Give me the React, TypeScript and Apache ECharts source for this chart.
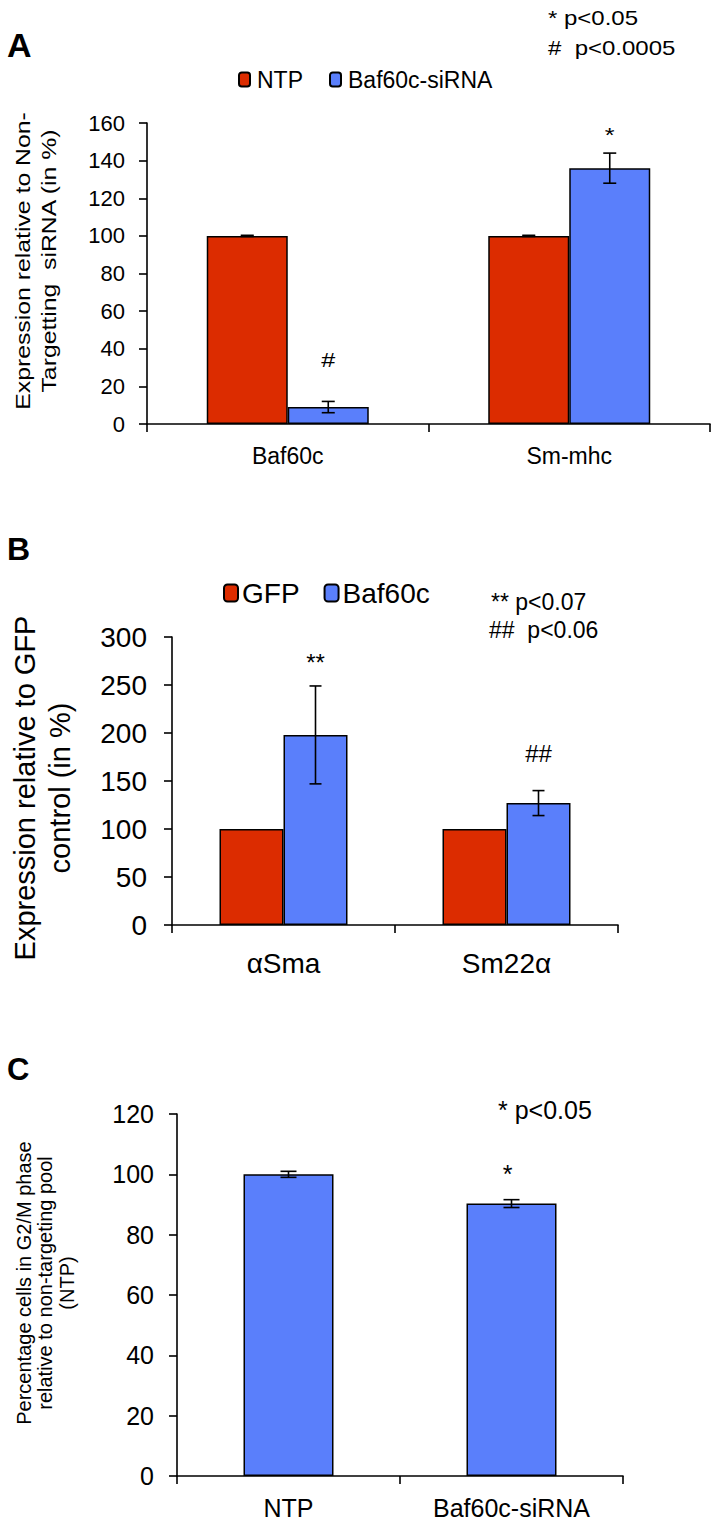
import React, { useEffect, useRef } from "react";
import * as echarts from "echarts";

// ---------- Data ----------
// Panel A
const catsA = ["Baf60c", "Sm-mhc"];
const ntpA = [100, 100];
const ntpErrA = [0.3, 0.3];
const siA = [9, 136];
const siErrA = [3, 8];
const markTextA = ["#", "*"];
const markPosA = [34, 154];
const ticksA = { min: 0, max: 160, interval: 20 };

// Panel B
const catsB = ["αSma", "Sm22α"];
const gfpB = [100, 100];
const bafB = [198, 127];
const bafErrB = [51, 13];
const markTextB = ["**", "##"];
const markPosB = [273, 179];
const ticksB = { min: 0, max: 300, interval: 50 };

// Panel C
const catsC = ["NTP", "Baf60c-siRNA"];
const valC = [100, 90.3];
const errC = [1, 1.3];
const markTextC = ["", "*"];
const markPosC = [0, 100];
const ticksC = { min: 0, max: 120, interval: 20 };

const RED = "#dc2c00";
const BLUE = "#5a7ffb";
const FONT = "'Liberation Sans', Arial, Helvetica, sans-serif";

function errRenderer(offsetPx: number, capHalf: number) {
  return (params: any, api: any) => {
    const i = api.value(0);
    const v = api.value(1);
    const e = api.value(2);
    if (!(e > 0)) return { type: "group", children: [] };
    const c = api.coord([i, v]);
    const t = api.coord([i, v + e]);
    const b = api.coord([i, v - e]);
    const x = c[0] + offsetPx;
    const st = { stroke: "#000", lineWidth: 1.6 };
    return {
      type: "group",
      children: [
        { type: "line", shape: { x1: x, y1: t[1], x2: x, y2: b[1] }, style: st },
        { type: "line", shape: { x1: x - capHalf, y1: t[1], x2: x + capHalf, y2: t[1] }, style: st },
        { type: "line", shape: { x1: x - capHalf, y1: b[1], x2: x + capHalf, y2: b[1] }, style: st },
      ],
    };
  };
}

function markRenderer(texts: string[], offsetPx: number, fontSize: number, scaleX: number) {
  return (params: any, api: any) => {
    const i = api.value(0);
    const v = api.value(1);
    const txt = texts[params.dataIndex];
    if (!txt) return { type: "group", children: [] };
    const c = api.coord([i, v]);
    return {
      type: "text",
      x: c[0] + offsetPx,
      y: c[1],
      scaleX,
      style: {
        text: txt,
        fontSize,
        fontFamily: FONT,
        fill: "#000",
        align: "center",
        verticalAlign: "middle",
      },
    };
  };
}

function catAxis(gridIndex: number, data: string[], fontSize: number, margin: number) {
  return {
    type: "category",
    gridIndex,
    data,
    boundaryGap: true,
    axisLine: { show: true, lineStyle: { color: "#000", width: 1.6 } },
    axisTick: { show: true, length: 8, inside: false, lineStyle: { color: "#000", width: 1.6 } },
    axisLabel: { color: "#000", fontSize, fontFamily: FONT, margin },
    splitLine: { show: false },
  };
}

function valAxis(gridIndex: number, t: any, fontSize: number, margin: number) {
  return {
    type: "value",
    gridIndex,
    min: t.min,
    max: t.max,
    interval: t.interval,
    axisLine: { show: true, lineStyle: { color: "#000", width: 1.6 } },
    axisTick: { show: true, length: 8, lineStyle: { color: "#000", width: 1.6 } },
    axisLabel: { color: "#000", fontSize, fontFamily: FONT, margin },
    splitLine: { show: false },
  };
}

const barStyle = (color: string) => ({ color, borderColor: "#000", borderWidth: 1.5 });

function txt(x: number, y: number, text: string, fontSize: number, extra: any = {}) {
  const { scaleX = 1, bold = false, rotation = 0, lineHeight, align = "left" } = extra;
  return {
    type: "text",
    x,
    y,
    scaleX,
    rotation,
    style: {
      text,
      fontSize,
      lineHeight,
      fontWeight: bold ? "bold" : "normal",
      fontFamily: FONT,
      fill: "#000",
      align,
      verticalAlign: "middle",
    },
  };
}

export default function App() {
  const ref = useRef<HTMLDivElement>(null);
  useEffect(() => {
    if (!ref.current) return;
    const chart = echarts.init(ref.current, null, { renderer: "svg" });
    const option: any = {
      animation: false,
      backgroundColor: "#fff",
      grid: [
        { left: 147, top: 123, width: 563, height: 301 },
        { left: 172, top: 637, width: 446, height: 288 },
        { left: 177, top: 1114, width: 446, height: 362 },
      ],
      xAxis: [
        catAxis(0, catsA, 23, 20),
        catAxis(1, catsB, 28, 24),
        catAxis(2, catsC, 25, 19),
      ],
      yAxis: [
        valAxis(0, ticksA, 22, 22),
        valAxis(1, ticksB, 28, 25),
        valAxis(2, ticksC, 25, 23),
      ],
      legend: [
        {
          data: ["NTP", "Baf60c-siRNA"],
          left: 233,
          top: 63,
          itemWidth: 11,
          itemHeight: 14,
          itemGap: 26,
          textStyle: { fontSize: 23, fontFamily: FONT, color: "#000", padding: [0, 0, 0, 2] },
          selectedMode: false,
        },
        {
          data: ["GFP", "Baf60c"],
          left: 218,
          top: 574,
          itemWidth: 14,
          itemHeight: 17,
          itemGap: 24,
          textStyle: { fontSize: 28, fontFamily: FONT, color: "#000", padding: [0, 0, 0, -1] },
          selectedMode: false,
        },
      ],
      series: [
        {
          name: "NTP", type: "bar", xAxisIndex: 0, yAxisIndex: 0, data: ntpA,
          barWidth: 81, barGap: "0%", itemStyle: barStyle(RED),
        },
        {
          name: "Baf60c-siRNA", type: "bar", xAxisIndex: 0, yAxisIndex: 0, data: siA,
          barWidth: 81, barGap: "0%", itemStyle: barStyle(BLUE),
        },
        {
          type: "custom", xAxisIndex: 0, yAxisIndex: 0, z: 5,
          data: ntpA.map((v, i) => [i, v, ntpErrA[i]]),
          renderItem: errRenderer(-40.5, 6.5),
        },
        {
          type: "custom", xAxisIndex: 0, yAxisIndex: 0, z: 5,
          data: siA.map((v, i) => [i, v, siErrA[i]]),
          renderItem: errRenderer(40.5, 6.5),
        },
        {
          type: "custom", xAxisIndex: 0, yAxisIndex: 0, z: 5,
          data: markPosA.map((v, i) => [i, v]),
          renderItem: markRenderer(markTextA, 40.5, 21, 1.2),
        },
        {
          name: "GFP", type: "bar", xAxisIndex: 1, yAxisIndex: 1, data: gfpB,
          barWidth: 64, barGap: "0%", itemStyle: barStyle(RED),
        },
        {
          name: "Baf60c", type: "bar", xAxisIndex: 1, yAxisIndex: 1, data: bafB,
          barWidth: 64, barGap: "0%", itemStyle: barStyle(BLUE),
        },
        {
          type: "custom", xAxisIndex: 1, yAxisIndex: 1, z: 5,
          data: bafB.map((v, i) => [i, v, bafErrB[i]]),
          renderItem: errRenderer(32, 6),
        },
        {
          type: "custom", xAxisIndex: 1, yAxisIndex: 1, z: 5,
          data: markPosB.map((v, i) => [i, v]),
          renderItem: markRenderer(markTextB, 32, 24, 1),
        },
        {
          name: "G2/M", type: "bar", xAxisIndex: 2, yAxisIndex: 2, data: valC,
          barWidth: 90, itemStyle: barStyle(BLUE),
        },
        {
          type: "custom", xAxisIndex: 2, yAxisIndex: 2, z: 5,
          data: valC.map((v, i) => [i, v, errC[i]]),
          renderItem: errRenderer(0, 8),
        },
        {
          type: "custom", xAxisIndex: 2, yAxisIndex: 2, z: 5,
          data: markPosC.map((v, i) => [i, v]),
          renderItem: markRenderer(markTextC, -4, 25, 1),
        },
      ],
      graphic: [
        txt(7, 45, "A", 34, { bold: true }),
        txt(548, 18, "* p<0.05", 20, { scaleX: 1.2 }),
        txt(548, 48, "#  p<0.0005", 20, { scaleX: 1.2 }),
        txt(36, 261, "Expression relative to Non-\nTargetting  siRNA (in %)", 20, {
          rotation: Math.PI / 2, scaleX: 1.24, lineHeight: 26, align: "center",
        }),
        txt(7, 549, "B", 32, { bold: true }),
        txt(491, 602, "** p<0.07", 23),
        txt(489, 630, "##  p<0.06", 23),
        txt(42, 788, "Expression relative to GFP\ncontrol (in %)", 29, {
          rotation: Math.PI / 2, lineHeight: 35, align: "center",
        }),
        txt(7, 1069, "C", 31, { bold: true }),
        txt(498, 1110, "* p<0.05", 25),
        txt(45, 1283, "Percentage cells in G2/M phase\nrelative to non-targeting pool\n(NTP)", 20, {
          rotation: Math.PI / 2, lineHeight: 21.5, align: "center",
        }),
      ],
    };
    chart.setOption(option);
    return () => chart.dispose();
  }, []);
  return (
    <div
      ref={ref}
      style={{ position: "absolute", left: 0, top: 0, width: 717, height: 1523, background: "#fff" }}
    />
  );
}
